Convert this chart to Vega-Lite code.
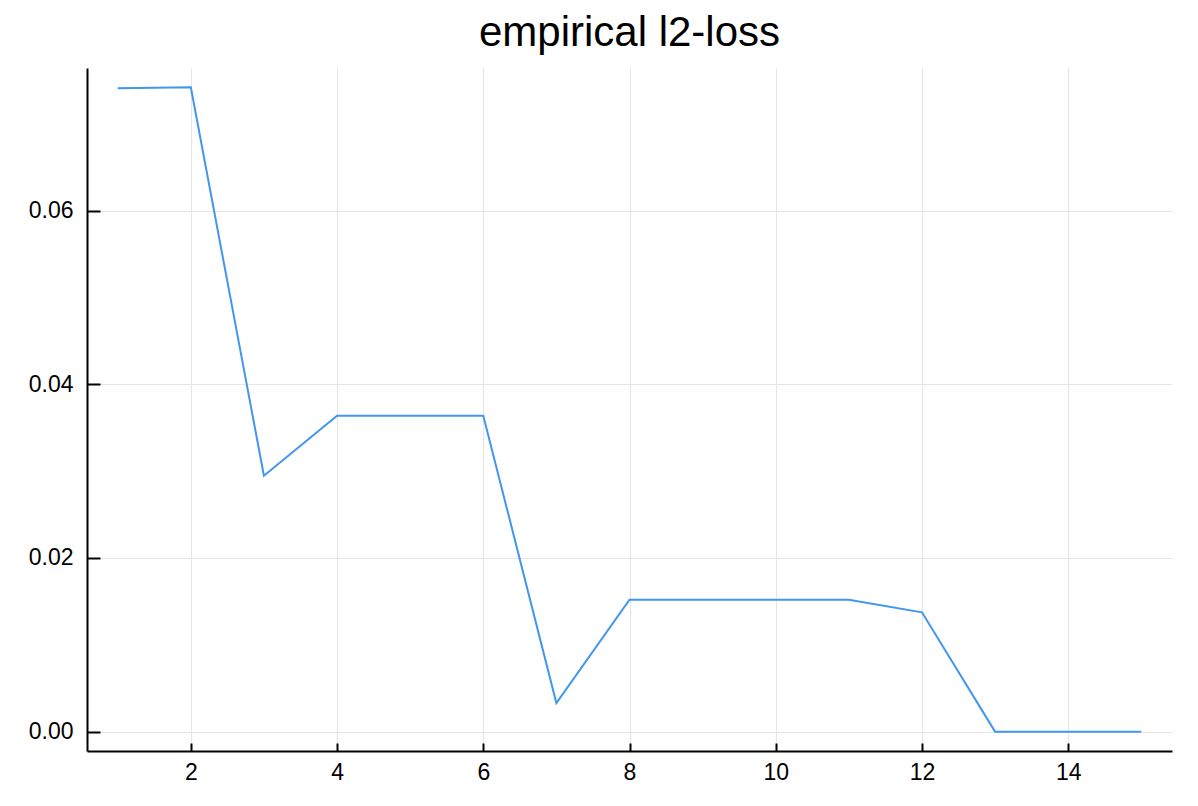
{
  "$schema": "https://vega.github.io/schema/vega-lite/v6.json",
  "width": 1085,
  "height": 683,
  "autosize": {"type": "none"},
  "padding": {"left": 87, "top": 68, "right": 26, "bottom": 55},
  "background": "white",
  "title": {"text": "empirical l2-loss", "fontSize": 42, "font": "Liberation Sans", "fontWeight": "normal", "color": "black", "anchor": "middle", "frame": "group", "offset": 13},
  "data": {"values": [
    {"x": 1, "y": 0.0741},
    {"x": 2, "y": 0.0742},
    {"x": 3, "y": 0.02947},
    {"x": 4, "y": 0.03638},
    {"x": 5, "y": 0.03638},
    {"x": 6, "y": 0.03638},
    {"x": 7, "y": 0.00329},
    {"x": 8, "y": 0.0152},
    {"x": 9, "y": 0.0152},
    {"x": 10, "y": 0.0152},
    {"x": 11, "y": 0.0152},
    {"x": 12, "y": 0.01374},
    {"x": 13, "y": 0.0},
    {"x": 14, "y": 0.0},
    {"x": 15, "y": 0.0}
  ]},
  "mark": {"type": "line", "color": "#4196ee", "strokeWidth": 2, "clip": true},
  "encoding": {
    "x": {"field": "x", "type": "quantitative", "title": null,
      "scale": {"domain": [0.58, 15.42], "nice": false, "zero": false},
      "axis": {"values": [2, 4, 6, 8, 10, 12, 14], "tickSize": -8, "labelPadding": 18}},
    "y": {"field": "y", "type": "quantitative", "title": null,
      "scale": {"domain": [-0.00223, 0.07643], "nice": false, "zero": false},
      "axis": {"values": [0, 0.02, 0.04, 0.06], "format": ".2f", "tickSize": -13, "labelPadding": 27}}
  },
  "config": {
    "view": {"stroke": null},
    "axis": {
      "domainColor": "black", "domainWidth": 2,
      "tickColor": "black", "tickWidth": 2,
      "gridColor": "#e5e5e5", "gridWidth": 1,
      "labelFont": "Liberation Sans", "labelFontSize": 23, "labelColor": "black"
    }
  }
}
